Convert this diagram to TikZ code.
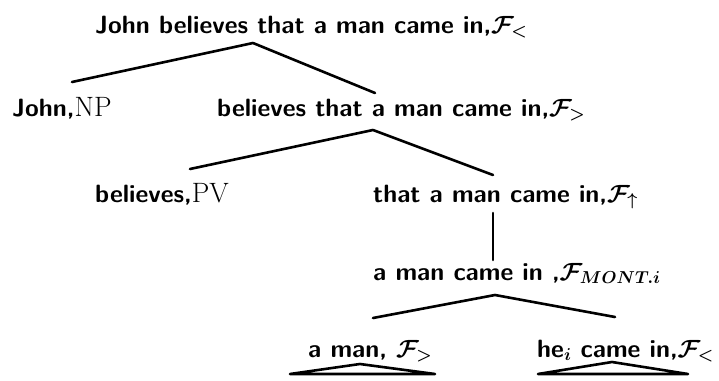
\documentclass[tikz,border=0pt]{standalone}
\begin{document}
\begin{tikzpicture}[x=1pt,y=-1pt,
  lbl/.style={anchor=base west,inner sep=0pt,font=\fontsize{25}{30}\selectfont\sffamily\bfseries\boldmath},
  br/.style={line width=2.6pt,line cap=round,line join=round}]
\useasboundingbox (0,0) rectangle (719,380);
\newcommand{\rmtag}[1]{{\fontsize{28}{32}\selectfont\textrm{\mdseries #1}}}
\node[lbl] (root) at (95,33) {John believes that a man came in,$\mathcal{F}_<$};
\node[lbl] (john) at (12,116) {John,\rmtag{NP}};
\node[lbl] (bel) at (217,116) {believes that a man came in,$\mathcal{F}_>$};
\node[lbl] (belpv) at (95,202) {believes,\rmtag{PV}};
\node[lbl] (that) at (373,202) {that a man came in,$\mathcal{F}_\uparrow$};
\node[lbl] (amci) at (373,280) {a man came in ,$\mathcal{F}_{MONT.i}$};
\node[lbl] (aman) at (308,357) {a man, $\mathcal{F}_>$};
\node[lbl] (he) at (537,357) {he$_i$ came in,$\mathcal{F}_<$};
% branch points
\coordinate (r1) at (253,43);
\coordinate (r1l) at (72,82);
\coordinate (r1r) at (375,93);
\coordinate (r2) at (373,130);
\coordinate (r2l) at (190,169);
\coordinate (r2r) at (493,175);
\coordinate (v1) at (493,213);
\coordinate (v2) at (493,260);
\coordinate (r4) at (495,295);
\coordinate (r4l) at (373,318);
\coordinate (r4r) at (615,317);
\coordinate (t1) at (360,364);
\coordinate (t1l) at (290,374);
\coordinate (t1r) at (435,374);
\coordinate (t2) at (612,362);
\coordinate (t2l) at (538,374);
\coordinate (t2r) at (688,374);
\draw[br] (r1l) -- (r1) -- (r1r);
\draw[br] (r2l) -- (r2) -- (r2r);
\draw[br] (v1) -- (v2);
\draw[br] (r4l) -- (r4) -- (r4r);
\draw[br] (t1l) -- (t1) -- (t1r) -- cycle;
\draw[br] (t2l) -- (t2) -- (t2r) -- cycle;
\end{tikzpicture}
\end{document}
